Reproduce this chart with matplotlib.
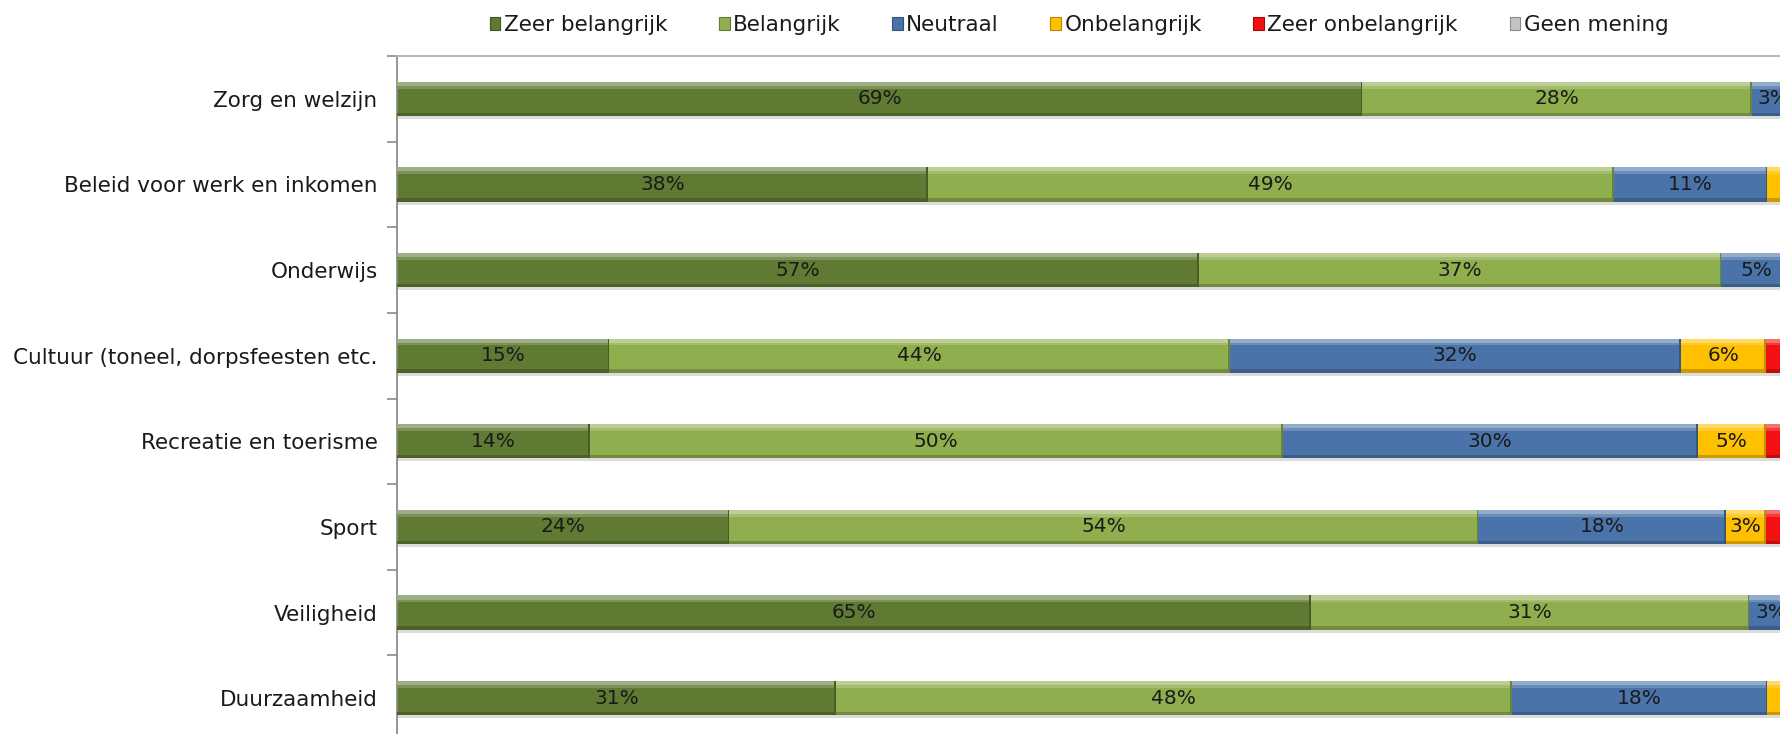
import matplotlib
matplotlib.use("Agg")
import matplotlib.pyplot as plt
import numpy as np
from matplotlib.patches import Patch
from matplotlib.colors import to_rgb

categories = ["Zorg en welzijn", "Beleid voor werk en inkomen", "Onderwijs",
              "Cultuur (toneel, dorpsfeesten etc.", "Recreatie en toerisme",
              "Sport", "Veiligheid", "Duurzaamheid"]
series = ["Zeer belangrijk", "Belangrijk", "Neutraal", "Onbelangrijk",
          "Zeer onbelangrijk", "Geen mening"]

zeer_belangrijk   = [69.1, 38.0, 57.4, 15.2, 13.8, 23.8, 65.4, 31.4]
belangrijk        = [27.9, 49.1, 37.4, 44.4, 49.6, 53.6, 31.4, 48.4]
neutraal          = [3.0, 11.0, 5.0, 32.3, 29.7, 17.7, 3.2, 18.3]
onbelangrijk      = [0.0, 1.2, 0.2, 6.1, 4.9, 2.9, 0.0, 1.2]
zeer_onbelangrijk = [0.0, 0.4, 0.0, 1.5, 1.5, 1.5, 0.0, 0.4]
geen_mening       = [0.0, 0.3, 0.0, 0.5, 0.5, 0.5, 0.0, 0.3]

colors = ["#5f7a33", "#8fae4e", "#4a74a9", "#ffc000", "#f21010", "#c4c4c4"]

data = [zeer_belangrijk, belangrijk, neutraal, onbelangrijk, zeer_onbelangrijk, geen_mening]

plt.rcParams['font.family'] = ['DejaVu Sans']

W, H = 1780, 734
fig = plt.figure(figsize=(W / 100, H / 100), dpi=100)
ax_left = 397 / W
ax_right = 1794 / W
ax_top = 1 - 56 / H
ax_bottom = 1 - 741 / H
ax = fig.add_axes([ax_left, ax_bottom, ax_right - ax_left, ax_top - ax_bottom])

y = np.arange(len(categories))
bh = 0.40
left = np.zeros(len(categories))


def shade(c, f):
    r, g, b = to_rgb(c)
    if f > 0:
        return (r + (1 - r) * f, g + (1 - g) * f, b + (1 - b) * f)
    f = -f
    return (r * (1 - f), g * (1 - f), b * (1 - f))


# drop shadow
totals = np.sum(np.array(data), axis=0)
ax.barh(y + 0.035, totals, height=bh, left=0, color="#dcdcdc", zorder=1)

for vals, col, name in zip(data, colors, series):
    vals = np.array(vals)
    ax.barh(y, vals, height=bh, left=left, color=col, zorder=2, label=name)
    # top highlight
    ax.barh(y - bh / 2 + bh * 0.06, vals, height=bh * 0.12, left=left,
            color=shade(col, 0.4), zorder=3, linewidth=0)
    ax.barh(y - bh / 2 + bh * 0.16, vals, height=bh * 0.08, left=left,
            color=shade(col, 0.18), zorder=3, linewidth=0)
    # bottom shadow
    ax.barh(y + bh / 2 - bh * 0.05, vals, height=bh * 0.10, left=left,
            color=shade(col, -0.2), zorder=3, linewidth=0)
    # segment separator
    ax.barh(y, np.where(vals > 0, 0.12, 0), height=bh, left=left + vals - 0.12,
            color=shade(col, -0.25), zorder=3, linewidth=0)
    for yi, (l, v) in enumerate(zip(left, vals)):
        if v >= 2.5:
            ax.text(l + v / 2, yi, f"{v:.0f}%", ha="center", va="center",
                    fontsize=14.5, color="#1a1a1a", zorder=5)
    left = left + vals

ax.set_xlim(0, 100)
ax.set_ylim(len(categories) - 0.5, -0.5)
ax.set_yticks(y)
ax.set_yticklabels(categories, fontsize=15.5, color="#1a1a1a")
ax.set_yticks(np.arange(len(categories) + 1) - 0.5, minor=True)
ax.tick_params(axis="y", which="major", length=0, pad=14)
ax.tick_params(axis="y", which="minor", length=7, color="#8c8c8c", width=1.2)
ax.set_xticks([])
for s in ["right", "bottom"]:
    ax.spines[s].set_visible(False)
ax.spines["left"].set_color("#8c8c8c")
ax.spines["left"].set_linewidth(1.3)
ax.spines["top"].set_color("#b0b0b0")
ax.spines["top"].set_linewidth(1.3)

handles = [Patch(facecolor=c, edgecolor=shade(c, -0.3), linewidth=0.8) for c in colors]
fig.legend(handles, series, loc="center", bbox_to_anchor=(1079 / W, 1 - 25 / H),
           ncol=6, frameon=False, fontsize=15.5, handlelength=0.5, handleheight=0.6,
           handletextpad=0.15, columnspacing=2.4, labelcolor="#1a1a1a")

fig.savefig("out.png", dpi=100)
